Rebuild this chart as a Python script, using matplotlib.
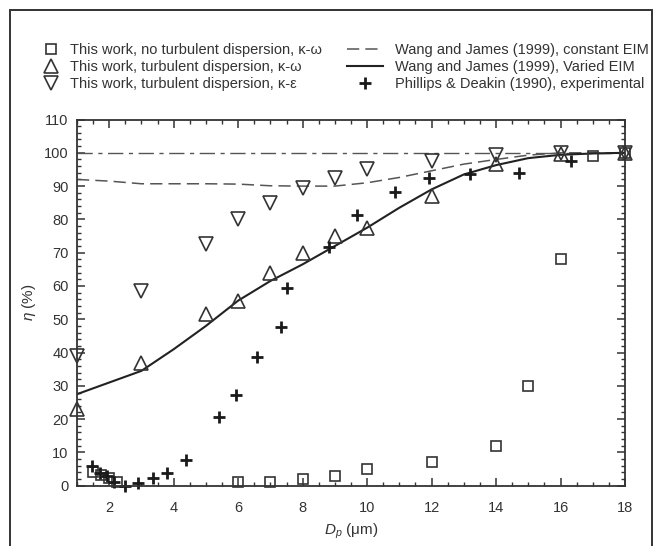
import matplotlib.pyplot as plt
from matplotlib.patches import Rectangle
from matplotlib.ticker import MultipleLocator

plt.rcParams['font.family'] = ['Liberation Sans', 'DejaVu Sans']
plt.rcParams['mathtext.fontset'] = 'custom'
plt.rcParams['mathtext.it'] = 'Liberation Sans:italic'
plt.rcParams['mathtext.rm'] = 'Liberation Sans'

# this work, k-omega, no turbulent dispersion
dp_sq = [1.5, 1.75, 2.0, 2.25, 6, 7, 8, 9, 10, 12, 14, 15, 16, 17, 18]
eta_sq = [4.2, 3.2, 2.2, 1.0, 1, 1, 2, 3, 5, 7, 12, 30, 68, 99, 100]

# this work, k-omega, turbulent dispersion
dp_up = [1, 3, 5, 6, 7, 8, 9, 10, 12, 14, 16, 18]
eta_up = [23, 37, 51.5, 55.5, 64, 70, 75, 77.5, 87, 96.5, 99.5, 100]

# this work, k-epsilon, turbulent dispersion
dp_dn = [1, 3, 5, 6, 7, 8, 9, 10, 12, 14, 16, 18]
eta_dn = [39, 58.5, 72.5, 80, 85, 89.5, 92.5, 95, 97.5, 99.2, 99.8, 100]

# Wang and James (1999)
dp_wj = [1, 2, 3, 4, 5, 6, 7, 8, 9, 10, 11, 12, 13, 14, 15, 16, 17, 18]
eta_const = [92, 91.5, 90.7, 90.7, 90.7, 90.6, 90.1, 90, 90, 91, 92.6, 94.6, 96.6, 98, 99.3, 100, 100, 100]
eta_varied = [27.5, 31, 34.5, 41, 48, 55.6, 61.5, 66.5, 72, 77.5, 83.5, 89, 93.5, 96.3, 98.4, 99.4, 99.8, 100]

# Phillips & Deakin (1990), experimental
dp_pd = [1.47, 1.71, 1.92, 2.16, 2.49, 2.9, 3.37, 3.8, 4.38, 5.41, 5.92, 6.57,
         7.32, 7.52, 8.82, 9.68, 10.88, 11.92, 13.19, 14.71, 16.31]
eta_pd = [6.0, 3.7, 3.0, 1.2, 0.0, 0.7, 2.2, 3.9, 7.7, 20.7, 27.2, 38.6,
          47.6, 59.3, 71.8, 81.3, 88.3, 92.3, 93.6, 94.0, 97.6]

fig = plt.figure(figsize=(6.59, 5.46), dpi=100)
ax = fig.add_axes([0.1168, 0.1104, 0.8316, 0.6707])

ec = '#333333'
ax.axhline(100, color='#555555', lw=1.0, dashes=(11, 4, 3, 4))
l_const, = ax.plot(dp_wj, eta_const, color='#555555', lw=1.1, dashes=(8, 4))
l_var, = ax.plot(dp_wj, eta_varied, color='#222222', lw=1.5)
mk = dict(mfc='none', mec=ec, mew=1.2, ls='none', clip_on=False)
h_sq, = ax.plot(dp_sq, eta_sq, 's', ms=7.5, **mk)
h_up, = ax.plot(dp_up, eta_up, '^', ms=9.5, **mk)
h_dn, = ax.plot(dp_dn, eta_dn, 'v', ms=9.5, **mk)
h_pd, = ax.plot(dp_pd, eta_pd, '+', ms=9, mec='#1a1a1a', mew=2.0, ls='none', clip_on=False)

ax.set_xlim(1, 18)
ax.set_ylim(0, 110)
ax.xaxis.set_major_locator(MultipleLocator(2))
ax.xaxis.set_minor_locator(MultipleLocator(0.5))
ax.yaxis.set_major_locator(MultipleLocator(10))
ax.yaxis.set_minor_locator(MultipleLocator(2))
ax.tick_params(which='both', direction='in', top=True, right=True, labelsize=10.5,
               color='#333333', labelcolor='#333333')
ax.tick_params(which='major', length=6, width=1.1)
ax.tick_params(which='minor', length=3, width=1.0)
ax.tick_params(axis='x', pad=11)
ax.tick_params(axis='y', pad=6)
for s in ax.spines.values():
    s.set_linewidth(1.3)
    s.set_color('#333333')

ax.set_xlabel(r'$D_p$ ($\mathrm{\mu}$m)', fontsize=11, color='#333333', labelpad=5)
ax.set_ylabel(r'$\eta$ (%)', fontsize=11, color='#333333', labelpad=4)

# legends above the axes
leg_kw = dict(frameon=False, fontsize=10.5, borderpad=0, labelspacing=0.2,
              labelcolor='#333333', loc='upper left')
leg1 = fig.legend([h_sq, h_up, h_dn],
                  ['This work, no turbulent dispersion, \u03ba-\u03c9',
                   'This work, turbulent dispersion, \u03ba-\u03c9',
                   'This work, turbulent dispersion, \u03ba-\u03b5'],
                  bbox_to_anchor=(0.056, 0.934), handlelength=1.0,
                  handletextpad=0.8, **leg_kw)
leg2 = fig.legend([l_const, l_var, h_pd],
                  ['Wang and James (1999), constant EIM',
                   'Wang and James (1999), Varied EIM',
                   'Phillips & Deakin (1990), experimental'],
                  bbox_to_anchor=(0.515, 0.934), handlelength=2.5,
                  handletextpad=0.8, **leg_kw)

# border around the figure, open at the bottom
fig.patches.append(Rectangle((10 / 659, -0.05), 642 / 659, 1 - 10 / 546 + 0.05,
                             transform=fig.transFigure, fill=False,
                             lw=1.4, edgecolor='#333333'))

fig.savefig('out.png', dpi=100)
